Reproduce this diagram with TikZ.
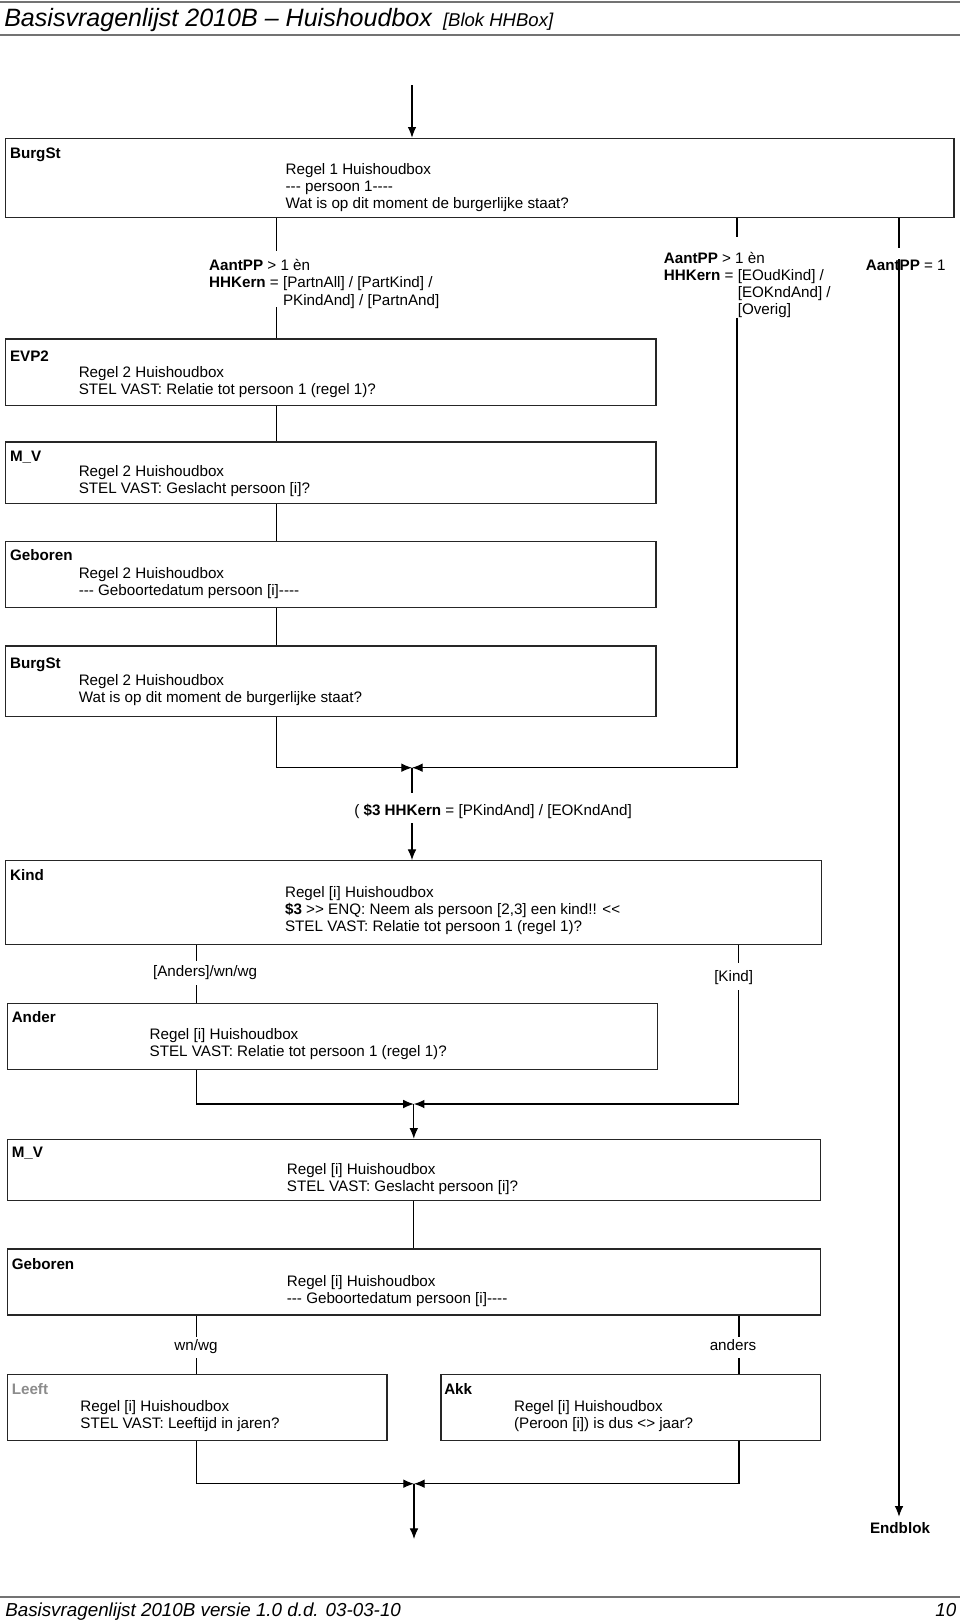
\documentclass[tikz,border=0pt]{standalone}
\usepackage{fontspec}
\setmainfont{Liberation Sans}
\usetikzlibrary{arrows.meta,fit}
\newcommand\mltext[1]{\begin{tabular}[t]{@{}l@{}}#1\end{tabular}}
\begin{document}
\begin{tikzpicture}[x=0.75pt,y=-0.75pt,
  every node/.style={font=\fontsize{11.4}{12.9}\selectfont, inner sep=0pt},
  bold/.style={font=\fontsize{11.4}{12.9}\selectfont\bfseries},
  box/.style={draw=black!85, line width=0.95pt, inner sep=0pt},
  conn/.style={draw=black, line width=0.8pt},
  arr/.style={conn, -{Latex[length=8pt,width=6.5pt]}},
  lbl/.style={anchor=base west},
  clbl/.style={anchor=base},
  rule/.style={draw=black!55, line width=1.6pt}]
\useasboundingbox (0,0) rectangle (960,1622);

% header / footer
\draw[rule] (0,2) -- (960,2);
\draw[rule] (0,35.3) -- (960,35.3);
\node[lbl, font=\fontsize{18.8}{20}\selectfont\itshape] (title) at (4,26.7) {Basisvragenlijst 2010B – Huishoudbox\hspace{3pt} {\fontsize{13.9}{15}\selectfont [Blok HHBox]}};
\draw[rule] (0,1596.7) -- (960,1596.7);
\node[lbl, font=\fontsize{14.1}{16}\selectfont\itshape] (foot) at (5,1616.7) {Basisvragenlijst 2010B versie 1.0 d.d. 03-03-10};
\node[anchor=base east, font=\fontsize{14.1}{16}\selectfont\itshape] (page) at (956.6,1616.7) {10};

% boxes
\node[box, fit={(5.2,138.3) (954,217.3)}] (burg1) {};
\node[box, fit={(5.2,339) (656,405.7)}] (evp2) {};
\node[box, fit={(5.2,442) (656,503.3)}] (mv1) {};
\node[box, fit={(5.2,541.7) (656,607.7)}] (geb1) {};
\node[box, fit={(5.2,646) (656,716.7)}] (burg2) {};
\node[box, fit={(5.2,860.7) (821.5,944.3)}] (kind) {};
\node[box, fit={(7.3,1003.3) (657.7,1069.3)}] (ander) {};
\node[box, fit={(7.3,1139.3) (820.6,1200.7)}] (mv2) {};
\node[box, fit={(7.3,1249) (820.6,1315)}] (geb2) {};
\node[box, fit={(7.3,1374.3) (387,1440.7)}] (leeft) {};
\node[box, fit={(441,1374.3) (820.6,1440.7)}] (akk) {};

% box texts
\node[lbl, bold] (n-burg1) at (9.8,158) {BurgSt};
\node[lbl] (q-burg1) at (285.4,174) {\mltext{Regel 1 Huishoudbox\\-{}-{}- persoon 1-{}-{}-{}-\\Wat is op dit moment de burgerlijke staat?}};
\node[lbl, bold] (n-evp2) at (9.8,361) {EVP2};
\node[lbl] (q-evp2) at (78.5,377) {\mltext{Regel 2 Huishoudbox\\STEL VAST: Relatie tot persoon 1 (regel 1)?}};
\node[lbl, bold] (n-mv1) at (9.8,461) {M\_V};
\node[lbl] (q-mv1) at (78.5,476.7) {\mltext{Regel 2 Huishoudbox\\STEL VAST: Geslacht persoon [i]?}};
\node[lbl, bold] (n-geb1) at (9.8,560.7) {Geboren};
\node[lbl] (q-geb1) at (78.5,578.3) {\mltext{Regel 2 Huishoudbox\\-{}-{}- Geboortedatum persoon [i]-{}-{}-{}-}};
\node[lbl, bold] (n-burg2) at (9.8,668.3) {BurgSt};
\node[lbl] (q-burg2) at (78.5,685) {\mltext{Regel 2 Huishoudbox\\Wat is op dit moment de burgerlijke staat?}};
\node[lbl, bold] (n-kind) at (9.8,880) {Kind};
\node[lbl] (q-kind) at (284.8,897.5) {\mltext{Regel [i] Huishoudbox\\\textbf{\$3} >{}> ENQ: Neem als persoon [2,3] een kind!! <{}<\\STEL VAST: Relatie tot persoon 1 (regel 1)?}};
\node[lbl, bold] (n-ander) at (11.5,1022.7) {Ander};
\node[lbl] (q-ander) at (149.4,1039.3) {\mltext{Regel [i] Huishoudbox\\STEL VAST: Relatie tot persoon 1 (regel 1)?}};
\node[lbl, bold] (n-mv2) at (11.5,1157.3) {M\_V};
\node[lbl] (q-mv2) at (286.6,1174) {\mltext{Regel [i] Huishoudbox\\STEL VAST: Geslacht persoon [i]?}};
\node[lbl, bold] (n-geb2) at (11.5,1269) {Geboren};
\node[lbl] (q-geb2) at (286.6,1286) {\mltext{Regel [i] Huishoudbox\\-{}-{}- Geboortedatum persoon [i]-{}-{}-{}-}};
\node[lbl, bold, text=black!45] (n-leeft) at (11.5,1394.3) {Leeft};
\node[lbl] (q-leeft) at (80.2,1411.7) {\mltext{Regel [i] Huishoudbox\\STEL VAST: Leeftijd in jaren?}};
\node[lbl, bold] (n-akk) at (444,1394.3) {Akk};
\node[lbl] (q-akk) at (513.8,1411.7) {\mltext{Regel [i] Huishoudbox\\(Peroon [i]) is dus <> jaar?}};

% branch labels
\node[lbl] (c-left) at (208.9,270.7) {\mltext{\textbf{AantPP} > 1 èn\\\textbf{HHKern} = [PartnAll] / [PartKind] /\\\phantom{\textbf{HHKern} = }PKindAnd] / [PartnAnd]}};
\node[lbl] (c-mid) at (663.6,263.3) {\mltext{\textbf{AantPP} > 1 èn\\\textbf{HHKern} = [EOudKind] /\\\phantom{\textbf{HHKern} = }[EOKndAnd] /\\\phantom{\textbf{HHKern} = }[Overig]}};
\node[lbl] (c-right) at (865.6,270) {\textbf{AantPP} = 1};
\node[lbl] (c-cond) at (354,815) {( \textbf{\$3 HHKern} = [PKindAnd] / [EOKndAnd]};
\node[clbl] (c-anders1) at (205,976.7) {[Anders]/wn/wg};
\node[clbl] (c-kind) at (733.7,981.7) {[Kind]};
\node[clbl] (c-wnwg) at (196,1350.7) {wn/wg};
\node[clbl] (c-anders2) at (733,1350.7) {anders};
\node[clbl, bold] (endblok) at (900,1533.3) {Endblok};

% connectors
\coordinate (top) at (412,85);
\draw[arr] (top) -- (top |- burg1.north);

\coordinate (gL1) at (276.5,250.7); \coordinate (gL2) at (276.5,307.3);
\draw[conn] (burg1.south -| gL1) -- (gL1);
\draw[conn] (gL2) -- (evp2.north -| gL2);
\draw[conn] (evp2.south -| gL1) -- (mv1.north -| gL1);
\draw[conn] (mv1.south -| gL1) -- (geb1.north -| gL1);
\draw[conn] (geb1.south -| gL1) -- (burg2.north -| gL1);
\coordinate (m1) at (412,767.7);
\draw[arr] (burg2.south -| gL1) |- (m1);

\coordinate (gM1) at (737,237.3); \coordinate (gM2) at (737,317.7);
\draw[conn] (burg1.south -| gM1) -- (gM1);
\draw[arr] (gM2) |- (m1);

\coordinate (gR1) at (899,248.3); \coordinate (gR2) at (899,259.3); \coordinate (endp) at (899,1516.7);
\draw[conn] (burg1.south -| gR1) -- (gR1);
\draw[arr] (gR2) -- (endp);

\coordinate (c1) at (412,793); \coordinate (c2) at (412,823);
\draw[conn] (m1) -- (c1);
\draw[arr] (c2) -- (kind.north -| c2);

\coordinate (gA1) at (196.6,960.7); \coordinate (gA2) at (196.6,985);
\draw[conn] (kind.south -| gA1) -- (gA1);
\draw[conn] (gA2) -- (ander.north -| gA2);
\coordinate (gK1) at (738.5,962.7); \coordinate (gK2) at (738.5,990);
\draw[conn] (kind.south -| gK1) -- (gK1);
\coordinate (m2) at (413.8,1104);
\draw[arr] (gK2) |- (m2);
\draw[arr] (ander.south -| gA1) |- (m2);
\draw[arr] (m2) -- (mv2.north -| m2);
\draw[conn] (mv2.south -| m2) -- (geb2.north -| m2);

\coordinate (gW1) at (196.6,1336.7); \coordinate (gW2) at (196.6,1358.3);
\coordinate (gN1) at (739,1337); \coordinate (gN2) at (739,1358.3);
\draw[conn] (geb2.south -| gW1) -- (gW1);
\draw[conn] (gW2) -- (leeft.north -| gW2);
\draw[conn] (geb2.south -| gN1) -- (gN1);
\draw[conn] (gN2) -- (akk.north -| gN2);
\coordinate (m3) at (414,1483.7);
\draw[arr] (leeft.south -| gW1) |- (m3);
\draw[arr] (akk.south -| gN1) |- (m3);
\coordinate (exit) at (414,1539);
\draw[arr] (m3) -- (exit);
\end{tikzpicture}
\end{document}
